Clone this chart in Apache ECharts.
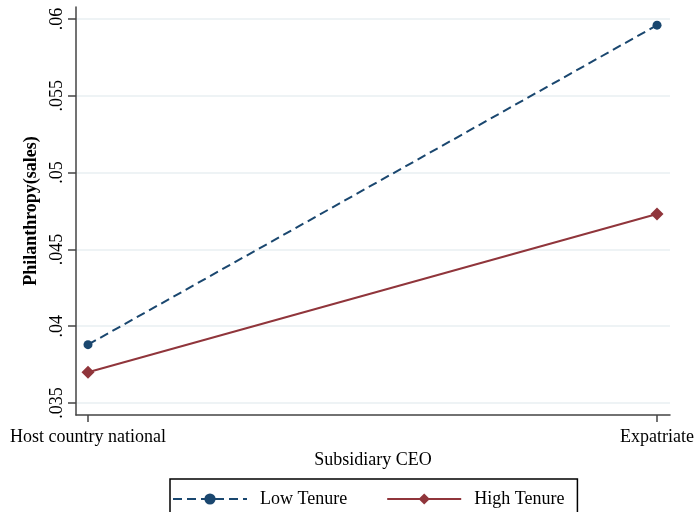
<!DOCTYPE html>
<html>
<head>
<meta charset="utf-8">
<script src="https://cdn.jsdelivr.net/npm/echarts@6/dist/echarts.min.js"></script>
<style>
  html, body { margin: 0; padding: 0; background: #fff; }
  #chart { width: 697px; height: 512px; }
</style>
</head>
<body>
<div id="chart"></div>
<script>
// Predicted philanthropy (share of sales) by subsidiary CEO type and tenure
const categories = ['Host country national', 'Expatriate'];
const lowTenure = [0.0388, 0.0596];
const highTenure = [0.0370, 0.0473];
const yTicks = [0.035, 0.04, 0.045, 0.05, 0.055, 0.06];
const yTickLabels = ['.035', '.04', '.045', '.05', '.055', '.06'];

const FONT = '"Liberation Serif", "Times New Roman", serif';
const NAVY = '#1a476f';
const MAROON = '#90353b';

const toPoints = vals => vals.map((v, i) => [i, v]);

const chart = echarts.init(document.getElementById('chart'), null, { renderer: 'canvas' });

chart.setOption({
  animation: false,
  backgroundColor: '#fff',
  textStyle: { fontFamily: FONT, color: '#000' },
  grid: { left: 76, right: 27, top: 7, bottom: 97, containLabel: false },
  xAxis: {
    type: 'value',
    min: -0.0211,
    max: 1.0228,
    name: 'Subsidiary CEO',
    nameLocation: 'middle',
    nameGap: 34,
    nameTextStyle: { fontFamily: FONT, fontSize: 18, color: '#000' },
    axisLine: { show: true, onZero: false, lineStyle: { color: '#444', width: 1.5 } },
    axisTick: { show: true, length: 7, customValues: categories.map((c, i) => i),
                lineStyle: { color: '#444', width: 1.5 } },
    axisLabel: {
      customValues: categories.map((c, i) => i),
      formatter: v => categories[Math.round(v)] || '',
      fontFamily: FONT, fontSize: 18, color: '#000', margin: 13
    },
    splitLine: { show: false }
  },
  yAxis: {
    type: 'value',
    min: 0.03422,
    max: 0.06078,
    name: 'Philanthropy(sales)',
    nameLocation: 'middle',
    nameRotate: 90,
    nameGap: 34,
    nameTextStyle: { fontFamily: FONT, fontSize: 18, fontWeight: 'bold', color: '#000' },
    axisLine: { show: true, onZero: false, lineStyle: { color: '#444', width: 1.5 } },
    axisTick: { show: true, length: 8, customValues: yTicks,
                lineStyle: { color: '#444', width: 1.5 } },
    axisLabel: {
      customValues: yTicks,
      rotate: 90,
      formatter: v => {
        const k = yTicks.findIndex(t => Math.abs(t - v) < 1e-9);
        return k >= 0 ? yTickLabels[k] : '';
      },
      fontFamily: FONT, fontSize: 18, color: '#000', margin: 10
    },
    splitLine: { show: true, lineStyle: { color: '#e8eff2', width: 1.5 } }
  },
  legend: {
    left: 170,
    top: 479,
    orient: 'horizontal',
    padding: [11, 13, 14, 2],
    borderColor: '#000',
    borderWidth: 1.5,
    itemWidth: 74,
    itemHeight: 14,
    itemGap: 39,
    textStyle: { fontFamily: FONT, fontSize: 18, color: '#000', padding: [0, 0, 0, 8] },
    data: ['Low Tenure', 'High Tenure']
  },
  series: [
    {
      name: 'Low Tenure',
      type: 'line',
      data: toPoints(lowTenure),
      symbol: 'circle',
      symbolSize: 9,
      lineStyle: { color: NAVY, width: 2, type: [9, 5] },
      itemStyle: { color: NAVY }
    },
    {
      name: 'High Tenure',
      type: 'line',
      data: toPoints(highTenure),
      symbol: 'diamond',
      symbolSize: 13,
      lineStyle: { color: MAROON, width: 2 },
      itemStyle: { color: MAROON }
    }
  ]
});
</script>
</body>
</html>
